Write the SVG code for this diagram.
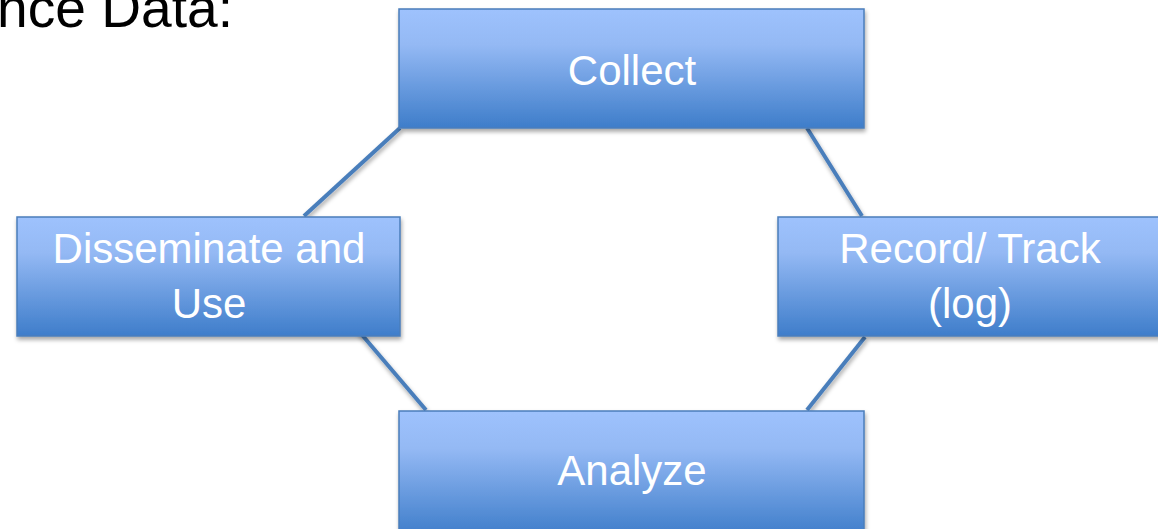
<svg xmlns="http://www.w3.org/2000/svg" width="1158" height="529" viewBox="0 0 1158 529">
  <defs>
    <linearGradient id="boxGrad" x1="0" y1="0" x2="0" y2="1">
      <stop offset="0" stop-color="#9ec2fd"/>
      <stop offset="0.3" stop-color="#94b9f4"/>
      <stop offset="1" stop-color="#3e7dca"/>
    </linearGradient>
    <filter id="shadow" x="-10%" y="-10%" width="120%" height="130%">
      <feDropShadow dx="1" dy="3" stdDeviation="2" flood-color="#000" flood-opacity="0.35"/>
    </filter>
  </defs>
  <style>
    .box { fill: url(#boxGrad); stroke: #4a7ebb; stroke-width: 1.5; filter: url(#shadow); }
    .lbl { font-family: "Liberation Sans", Arial, sans-serif; font-size: 42px; fill: #ffffff; text-anchor: middle; }
    .conn { stroke: #4a7ebb; stroke-width: 4; fill: none; filter: url(#shadow); }
    .title { font-family: "Liberation Sans", Arial, sans-serif; font-size: 56px; fill: #000000; }
  </style>
  <rect width="1158" height="529" fill="#ffffff"/>
  <text class="title" x="-3" y="27" textLength="236" lengthAdjust="spacingAndGlyphs">nce Data:</text>
  <g id="connectors">
    <line class="conn" x1="400" y1="128" x2="304" y2="216"/>
    <line class="conn" x1="807" y1="128" x2="862" y2="216"/>
    <line class="conn" x1="351" y1="322" x2="426" y2="410"/>
    <line class="conn" x1="865" y1="337" x2="807" y2="410"/>
  </g>
  <g id="collect">
    <rect class="box" x="399" y="9" width="465" height="119"/>
    <text class="lbl" x="632" y="85">Collect</text>
  </g>
  <g id="disseminate">
    <rect class="box" x="17" y="217" width="383" height="119"/>
    <text class="lbl" x="209" y="263">Disseminate and</text>
    <text class="lbl" x="209" y="318">Use</text>
  </g>
  <g id="record">
    <rect class="box" x="778" y="217" width="384" height="119"/>
    <text class="lbl" x="970" y="263">Record/ Track</text>
    <text class="lbl" x="970" y="318">(log)</text>
  </g>
  <g id="analyze">
    <rect class="box" x="399" y="411" width="465" height="125"/>
    <text class="lbl" x="632" y="485">Analyze</text>
  </g>
</svg>
